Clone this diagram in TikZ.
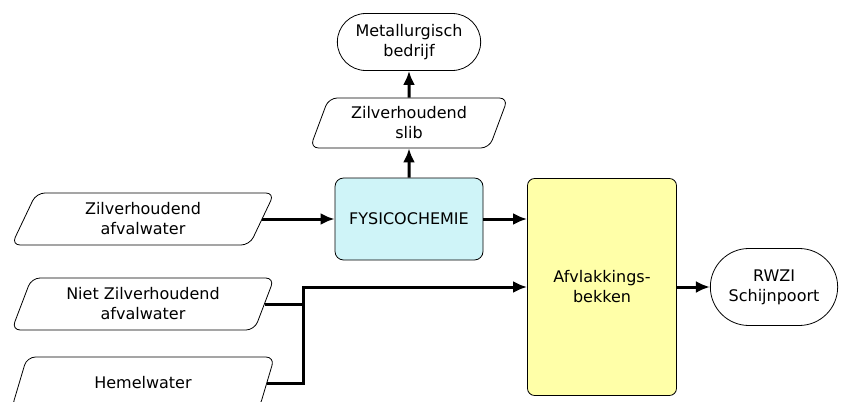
\documentclass[tikz,border=0pt]{standalone}
\usepackage{fontspec}
\setmainfont{DejaVu Sans}
\usetikzlibrary{positioning,shapes.geometric,shapes.misc,arrows.meta}

\definecolor{fysblue}{HTML}{CFF4F8}
\definecolor{bekyellow}{HTML}{FFFFA8}

\tikzstyle{proc} = [draw, rectangle, line width=0.8pt,
    rounded corners=0.3cm, align=center]
\tikzstyle{data} = [draw, trapezium, trapezium left angle=70, trapezium right angle=110,
    trapezium stretches=true, line width=0.8pt, rounded corners=0.3cm, align=center,
    minimum width=263pt, minimum height=52pt]
\tikzstyle{term} = [draw, rounded rectangle, line width=0.8pt, align=center]
\tikzstyle{input} = [coordinate]

\begin{document}
\begin{tikzpicture}[x=1pt, y=1pt, node distance=0em, >={Latex[length=14pt,width=12pt]},
    font=\fontsize{16}{20}\selectfont]
    \useasboundingbox (0,0) rectangle (842,-401);
    \clip (0,0) rectangle (842,-401);

    \node [data] (zilver) at (143,-219) {Zilverhoudend\\afvalwater};
    \node [data, below of=zilver, yshift=-85pt] (niet) {Niet Zilverhoudend\\afvalwater};
    \node [data, below of=niet, yshift=-79pt] (hemel) {Hemelwater};
    \node [proc, fill=fysblue, minimum width=148pt, minimum height=82pt, right of=zilver, xshift=266pt] (fysico) {FYSICOCHEMIE};
    \node [data, minimum width=198pt, minimum height=50pt, above of=fysico, yshift=96pt] (slib) {Zilverhoudend\\slib};
    \node [term, minimum width=150pt, minimum height=57pt, above of=slib, yshift=81pt] (metal) {Metallurgisch\\bedrijf};
    \node [proc, fill=bekyellow, rounded corners=0.25cm, minimum width=149pt, minimum height=217pt, right of=fysico, xshift=193pt, yshift=-68pt] (afvlak) {Afvlakkings-\\bekken};
    \node [term, minimum width=134pt, minimum height=77pt, right of=afvlak, xshift=172pt] (rwzi) {RWZI\\Schijnpoort};
    \node [input, name=junc, right of=niet, xshift=160pt, yshift=17pt] {};

    % connectors
    \draw [line width=3pt, ->] (zilver.east) -- (zilver.east -| fysico.west);
    \draw [line width=3pt, ->] (fysico.east) -- (fysico.east -| afvlak.west);
    \draw [line width=3pt, ->] (fysico.north) -- (slib.south);
    \draw [line width=3pt, ->] (slib.north) -- (metal.south);
    \draw [line width=3pt] (niet.east) -- (niet.east -| junc);
    \draw [line width=3pt, ->] (hemel.east) -| (junc) -- (junc -| afvlak.west);
    \draw [line width=3pt, ->] (afvlak.east) -- (rwzi.west);
\end{tikzpicture}
\end{document}
